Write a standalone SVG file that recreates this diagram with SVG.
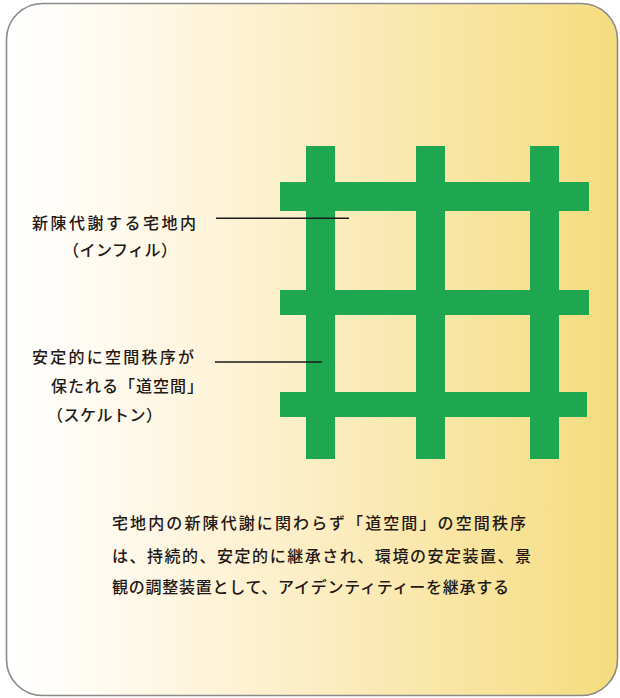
<svg xmlns="http://www.w3.org/2000/svg" width="620" height="698" viewBox="0 0 620 698">
  <defs>
    <linearGradient id="bg" x1="0" y1="0" x2="1" y2="0">
      <stop offset="0" stop-color="#ffffff"/>
      <stop offset="0.1" stop-color="#fffdf7"/>
      <stop offset="0.5" stop-color="#fcedc4"/>
      <stop offset="1" stop-color="#f5dc7e"/>
    </linearGradient>
    <style>
      .t { font-family: "Noto Sans CJK JP", "Noto Sans", sans-serif; fill: #231815; font-size: 16px; font-weight: 500; }
      .g { fill: #1fa650; }
      .c { stroke: #1a1a1a; stroke-width: 1.6; fill: none; }
    </style>
  </defs>
  <g id="frame">
    <rect x="6.5" y="3.5" width="611" height="692" rx="36" ry="36" fill="url(#bg)" stroke="#8a8a8a" stroke-width="1.6"/>
  </g>
  <g id="grid">
    <rect class="g" x="306" y="146" width="29" height="313"/>
    <rect class="g" x="416" y="146" width="29" height="313"/>
    <rect class="g" x="530" y="146" width="29" height="313"/>
    <rect class="g" x="280" y="182" width="309" height="29"/>
    <rect class="g" x="280" y="290" width="309" height="25"/>
    <rect class="g" x="280" y="392" width="307" height="25"/>
  </g>
  <g id="connectors">
    <line class="c" x1="216" y1="218.3" x2="349" y2="218.3"/>
    <line class="c" x1="215" y1="362" x2="322" y2="362"/>
  </g>
  <g id="label-infill">
    <text class="t" x="32" y="229" textLength="164" lengthAdjust="spacing">新陳代謝する宅地内</text>
    <text class="t" x="63" y="256" textLength="114" lengthAdjust="spacing">（インフィル）</text>
  </g>
  <g id="label-skeleton">
    <text class="t" x="32" y="363" textLength="162" lengthAdjust="spacing">安定的に空間秩序が</text>
    <text class="t" x="51" y="392" textLength="152" lengthAdjust="spacing">保たれる「道空間」</text>
    <text class="t" x="47" y="421" textLength="115" lengthAdjust="spacing">（スケルトン）</text>
  </g>
  <g id="description">
    <text class="t" x="112" y="529" textLength="414" lengthAdjust="spacing">宅地内の新陳代謝に関わらず「道空間」の空間秩序</text>
    <text class="t" x="112" y="562" textLength="419" lengthAdjust="spacing">は、持続的、安定的に継承され、環境の安定装置、景</text>
    <text class="t" x="112" y="593" textLength="397" lengthAdjust="spacing">観の調整装置として、アイデンティティーを継承する</text>
  </g>
</svg>
